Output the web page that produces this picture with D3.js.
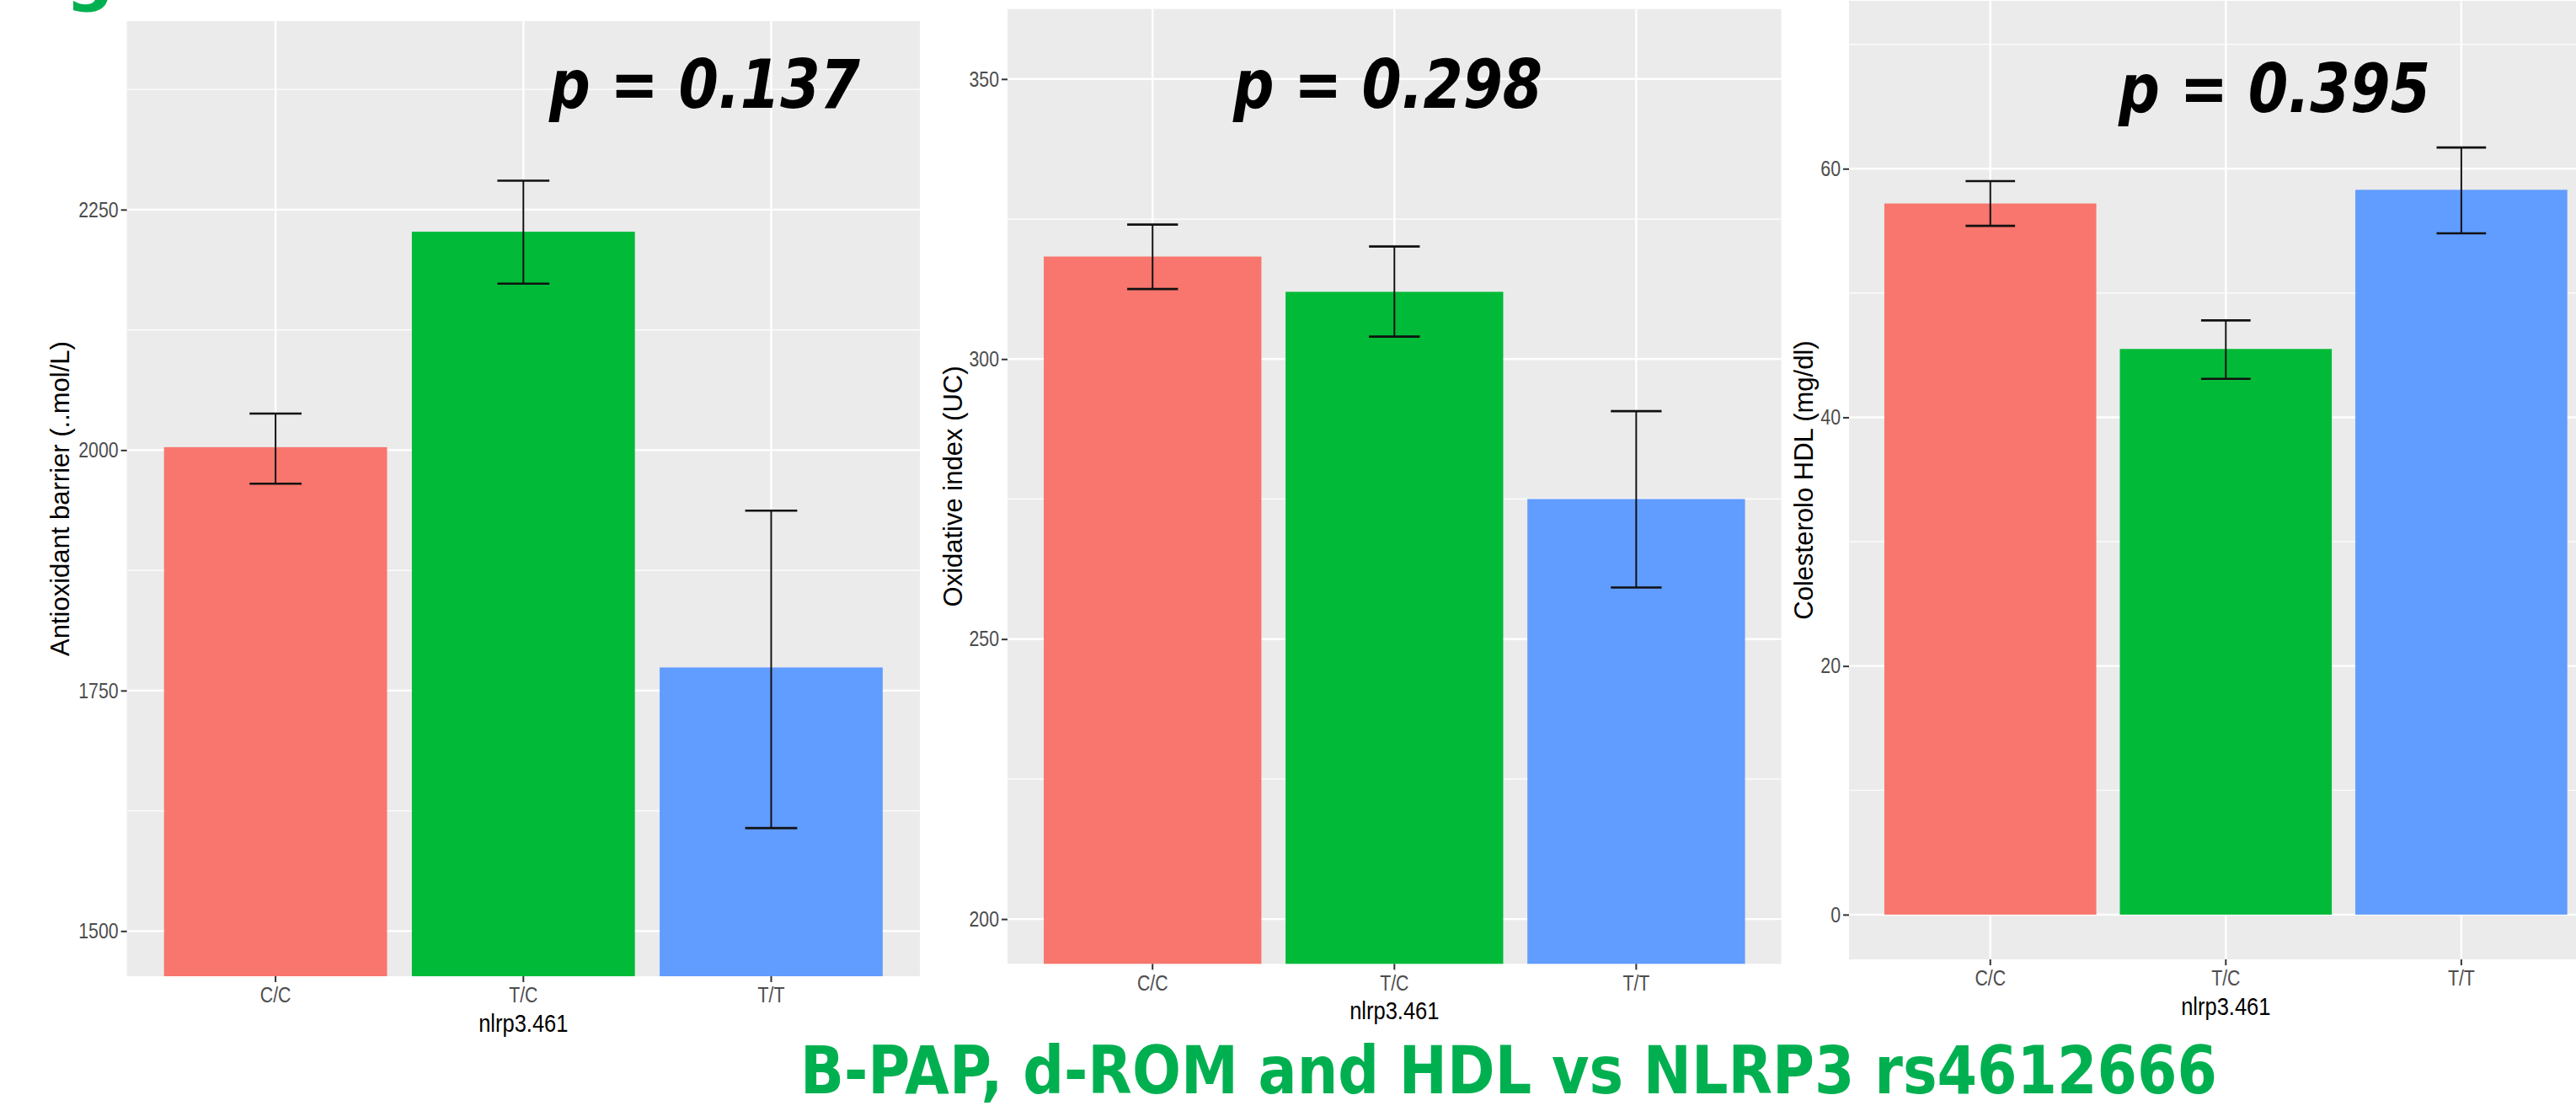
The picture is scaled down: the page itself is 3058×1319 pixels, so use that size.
<!DOCTYPE html>
<html>
<head>
<meta charset="utf-8">
<script src="https://cdn.jsdelivr.net/npm/d3@7"></script>
<style>
  body { margin: 0; background: #fff; }
  svg { display: block; }
</style>
</head>
<body>
<svg id="chart" width="3058" height="1319"></svg>
<script>
// shared categories / colours
var genotypes = ["C/C", "T/C", "T/T"];
var barColors = ["#F8766D", "#00BA38", "#619CFF"];
var xTitle = "nlrp3.461";
var caption = "B-PAP, d-ROM and HDL vs NLRP3 rs4612666";

// B-PAP (antioxidant barrier)
var bpapMean = [2003, 2227, 1774];
var bpapLow = [1965, 2173, 1607];
var bpapHigh = [2038, 2280, 1937];
var bpapTicks = [1500, 1750, 2000, 2250];
var bpapTitle = "Antioxidant barrier (..mol/L)";
var bpapP = "p = 0.137";

// d-ROM (oxidative index)
var dromMean = [318.3, 312.0, 275.0];
var dromLow = [312.5, 304.0, 259.2];
var dromHigh = [324.0, 320.1, 290.7];
var dromTicks = [200, 250, 300, 350];
var dromTitle = "Oxidative index (UC)";
var dromP = "p = 0.298";

// HDL
var hdlMean = [57.2, 45.5, 58.3];
var hdlLow = [55.4, 43.1, 54.8];
var hdlHigh = [59.0, 47.8, 61.7];
var hdlTicks = [0, 20, 40, 60];
var hdlTitle = "Colesterolo HDL (mg/dl)";
var hdlP = "p = 0.395";

// panel layout (pixels) + visible y range of each plot
var panels = [
  {mean: bpapMean, low: bpapLow, high: bpapHigh, ticks: bpapTicks, title: bpapTitle, p: bpapP,
   left: 150.6, right: 1092, top: 25, bottom: 1159, yDomain: [1453, 2446],
   titleOff: 69, pX: 652, pY: 128, pW: 369},
  {mean: dromMean, low: dromLow, high: dromHigh, ticks: dromTicks, title: dromTitle, p: dromP,
   left: 1196, right: 2114.6, top: 10.7, bottom: 1144.3, yDomain: [192, 362.5],
   titleOff: 54, pX: 1464, pY: 128, pW: 367},
  {mean: hdlMean, low: hdlLow, high: hdlHigh, ticks: hdlTicks, title: hdlTitle, p: hdlP,
   left: 2195, right: 3089.6, top: 1, bottom: 1139, yDomain: [-3.6, 73.5],
   titleOff: 43, pX: 2515, pY: 133, pW: 370}
];

var svg = d3.select("#chart");
var sansFont = "'Liberation Sans', Arial, sans-serif";
var comicFont = "'Comic Sans MS', 'DejaVu Sans', sans-serif";

panels.forEach(function(p, i) {
  var x = d3.scaleBand().domain(genotypes).range([p.left, p.right])
      .paddingInner(0.1).paddingOuter(0.15);
  var y = d3.scaleLinear().domain(p.yDomain).range([p.bottom, p.top]);
  var g = svg.append("g");

  // clip to the panel
  var clipId = "clip" + i;
  svg.append("clipPath").attr("id", clipId).append("rect")
      .attr("x", p.left).attr("y", p.top)
      .attr("width", p.right - p.left).attr("height", p.bottom - p.top);

  g.append("rect")
      .attr("x", p.left).attr("y", p.top)
      .attr("width", p.right - p.left).attr("height", p.bottom - p.top)
      .attr("fill", "#EBEBEB");

  var grid = g.append("g").attr("clip-path", "url(#" + clipId + ")");

  // minor gridlines halfway between majors
  var step = p.ticks[1] - p.ticks[0];
  var minor = [];
  for (var v = p.ticks[0] - step / 2; v <= p.ticks[p.ticks.length - 1] + step; v += step) {
    if (v > p.yDomain[0] && v < p.yDomain[1]) minor.push(v);
  }
  grid.selectAll(".minor").data(minor).enter().append("line")
      .attr("x1", p.left).attr("x2", p.right)
      .attr("y1", function(d) { return y(d); }).attr("y2", function(d) { return y(d); })
      .attr("stroke", "#fff").attr("stroke-width", 1.2);
  grid.selectAll(".major").data(p.ticks).enter().append("line")
      .attr("x1", p.left).attr("x2", p.right)
      .attr("y1", function(d) { return y(d); }).attr("y2", function(d) { return y(d); })
      .attr("stroke", "#fff").attr("stroke-width", 2.4);
  grid.selectAll(".vmajor").data(genotypes).enter().append("line")
      .attr("x1", function(d) { return x(d) + x.bandwidth() / 2; })
      .attr("x2", function(d) { return x(d) + x.bandwidth() / 2; })
      .attr("y1", p.top).attr("y2", p.bottom)
      .attr("stroke", "#fff").attr("stroke-width", 2.4);

  // bars
  grid.selectAll(".bar").data(p.mean).enter().append("rect")
      .attr("x", function(d, j) { return x(genotypes[j]); })
      .attr("width", x.bandwidth())
      .attr("y", function(d) { return y(d); })
      .attr("height", function(d) { return y(0) - y(d); })
      .attr("fill", function(d, j) { return barColors[j]; });

  // error bars
  var capW = x.step() * 0.21;
  var eb = g.selectAll(".err").data(p.mean).enter().append("g")
      .attr("transform", function(d, j) {
        return "translate(" + (x(genotypes[j]) + x.bandwidth() / 2) + ",0)";
      });
  eb.append("line").attr("x1", 0).attr("x2", 0)
      .attr("y1", function(d, j) { return y(p.low[j]); })
      .attr("y2", function(d, j) { return y(p.high[j]); })
      .attr("stroke", "#111").attr("stroke-width", 2);
  eb.append("line").attr("x1", -capW / 2).attr("x2", capW / 2)
      .attr("y1", function(d, j) { return y(p.high[j]); })
      .attr("y2", function(d, j) { return y(p.high[j]); })
      .attr("stroke", "#111").attr("stroke-width", 2.6);
  eb.append("line").attr("x1", -capW / 2).attr("x2", capW / 2)
      .attr("y1", function(d, j) { return y(p.low[j]); })
      .attr("y2", function(d, j) { return y(p.low[j]); })
      .attr("stroke", "#111").attr("stroke-width", 2.6);

  // axes
  var yAxis = g.append("g").attr("transform", "translate(" + p.left + ",0)")
      .call(d3.axisLeft(y).tickValues(p.ticks).tickFormat(d3.format("d"))
        .tickSize(7).tickPadding(3));
  var xAxis = g.append("g").attr("transform", "translate(0," + p.bottom + ")")
      .call(d3.axisBottom(x).tickSize(7).tickPadding(6));
  [yAxis, xAxis].forEach(function(ax) {
    ax.select(".domain").remove();
    ax.selectAll(".tick line").attr("stroke", "#333").attr("stroke-width", 2);
    ax.selectAll(".tick text")
        .attr("font-family", sansFont).attr("font-size", 26)
        .attr("fill", "#4D4D4D");
  });
  yAxis.selectAll(".tick text").attr("x", -10 / 0.82).attr("transform", "scale(0.82,1)");
  xAxis.selectAll(".tick text").attr("transform", "scale(0.82,1)");

  // axis titles
  svg.append("text")
      .attr("transform", "translate(" + (p.left + p.right) / 2 + "," + (p.bottom + 66) + ") scale(0.88,1)")
      .attr("text-anchor", "middle")
      .attr("font-family", sansFont).attr("font-size", 29)
      .attr("fill", "#000").text(xTitle);
  svg.append("text")
      .attr("transform", "translate(" + (p.left - p.titleOff) + "," + (p.top + p.bottom) / 2 + ") rotate(-90)")
      .attr("text-anchor", "middle")
      .attr("font-family", sansFont).attr("font-size", 31)
      .attr("fill", "#000").text(p.title);

  // p-value annotation
  svg.append("text")
      .attr("x", p.pX).attr("y", p.pY)
      .attr("textLength", p.pW).attr("lengthAdjust", "spacingAndGlyphs")
      .attr("font-family", comicFont).attr("font-size", 80)
      .attr("font-weight", "bold").attr("font-style", "italic")
      .attr("fill", "#000").text(p.p);
});

// cut-off panel letter at top left (only its tail shows, as in the source figure)
svg.append("text")
    .attr("x", 78).attr("y", -3)
    .attr("font-family", comicFont).attr("font-size", 80).attr("font-weight", "bold")
    .attr("fill", "#00B050").text("g");

// caption
svg.append("text")
    .attr("x", 950).attr("y", 1298)
    .attr("textLength", 1682).attr("lengthAdjust", "spacingAndGlyphs")
    .attr("font-family", comicFont).attr("font-size", 78).attr("font-weight", "bold")
    .attr("fill", "#00B050").text(caption);
</script>
</body>
</html>
